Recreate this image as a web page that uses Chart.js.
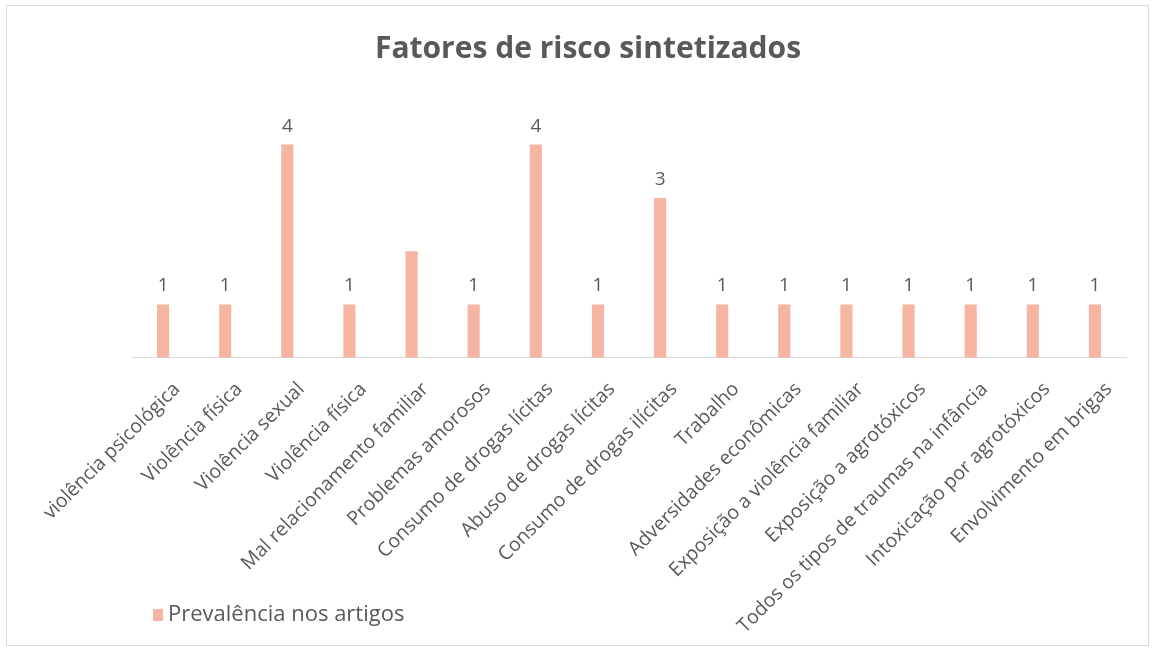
<!DOCTYPE html>
<html>
<head>
<meta charset="utf-8">
<script src="https://cdn.jsdelivr.net/npm/chart.js@4.4.0/dist/chart.umd.min.js"></script>
<style>
  html, body { margin: 0; padding: 0; background: #ffffff; }
  #wrap { position: relative; width: 1161px; height: 650px; }
  #frame { position: absolute; left: 6px; top: 5px; width: 1143px; height: 641px; border: 1px solid #d9d9d9; box-sizing: border-box; pointer-events: none; }
  canvas { position: absolute; left: 0; top: 0; }
</style>
</head>
<body>
<div id="wrap">
  <canvas id="c" width="1161" height="650"></canvas>
  <div id="frame"></div>
</div>
<script>
const chartTitle = 'Fatores de risco sintetizados';
const seriesName = 'Prevalência nos artigos';
const categories = [
  'violência psicológica',
  'Violência física',
  'Violência sexual',
  'Violência física',
  'Mal relacionamento familiar',
  'Problemas amorosos',
  'Consumo de drogas lícitas',
  'Abuso de drogas lícitas',
  'Consumo de drogas ilícitas',
  'Trabalho',
  'Adversidades econômicas',
  'Exposição a violência familiar',
  'Exposição a agrotóxicos',
  'Todos os tipos de traumas na infância',
  'Intoxicação por agrotóxicos',
  'Envolvimento em brigas'
];
const values = [1, 1, 4, 1, 2, 1, 4, 1, 3, 1, 1, 1, 1, 1, 1, 1];
const valueLabels = ['1', '1', '4', '1', '', '1', '4', '1', '3', '1', '1', '1', '1', '1', '1', '1'];

const barColor = '#f5b5a0';
const textColor = '#595959';
const fontFamily = '"Open Sans", "Noto Sans", sans-serif';

const titlePlugin = {
  id: 'centeredTitle',
  afterDraw(chart) {
    const ctx = chart.ctx;
    ctx.save();
    ctx.font = 'bold 30px ' + fontFamily;
    ctx.fillStyle = textColor;
    ctx.textAlign = 'center';
    ctx.textBaseline = 'middle';
    ctx.fillText(chartTitle, 588, 49);
    ctx.restore();
  }
};

const valueLabelPlugin = {
  id: 'valueLabels',
  afterDatasetsDraw(chart) {
    const ctx = chart.ctx;
    const meta = chart.getDatasetMeta(0);
    ctx.save();
    ctx.font = '19px ' + fontFamily;
    ctx.fillStyle = textColor;
    ctx.textAlign = 'center';
    ctx.textBaseline = 'bottom';
    meta.data.forEach((bar, i) => {
      const t = valueLabels[i];
      if (t) ctx.fillText(t, bar.x, bar.y - 9);
    });
    ctx.restore();
  }
};

const legendPlugin = {
  id: 'customLegend',
  afterDraw(chart) {
    const ctx = chart.ctx;
    const x = 153, y = 615;
    ctx.save();
    ctx.fillStyle = barColor;
    ctx.fillRect(x, y - 6, 10, 12);
    ctx.font = '22px ' + fontFamily;
    ctx.fillStyle = textColor;
    ctx.textAlign = 'left';
    ctx.textBaseline = 'middle';
    ctx.fillText(chart.data.datasets[0].label, x + 15, y);
    ctx.restore();
  }
};

new Chart(document.getElementById('c'), {
  type: 'bar',
  data: {
    labels: categories,
    datasets: [{
      label: seriesName,
      data: values,
      backgroundColor: barColor,
      borderWidth: 0,
      categoryPercentage: 1,
      barPercentage: 0.195
    }]
  },
  options: {
    responsive: false,
    animation: false,
    devicePixelRatio: 1,
    layout: { padding: { left: 132, right: 35, top: 22, bottom: 0 } },
    plugins: {
      legend: { display: false },
      tooltip: { enabled: false },
      title: { display: false }
    },
    scales: {
      x: {
        grid: { display: false },
        border: { display: true, color: '#d9d9d9', width: 1 },
        ticks: {
          color: textColor,
          font: { family: fontFamily, size: 19.5 },
          minRotation: 45,
          maxRotation: 45,
          autoSkip: false,
          padding: 12,
          labelOffset: 14
        }
      },
      y: {
        display: false,
        min: 0,
        max: 6.3
      }
    }
  },
  plugins: [valueLabelPlugin, legendPlugin, titlePlugin]
});
</script>
</body>
</html>
